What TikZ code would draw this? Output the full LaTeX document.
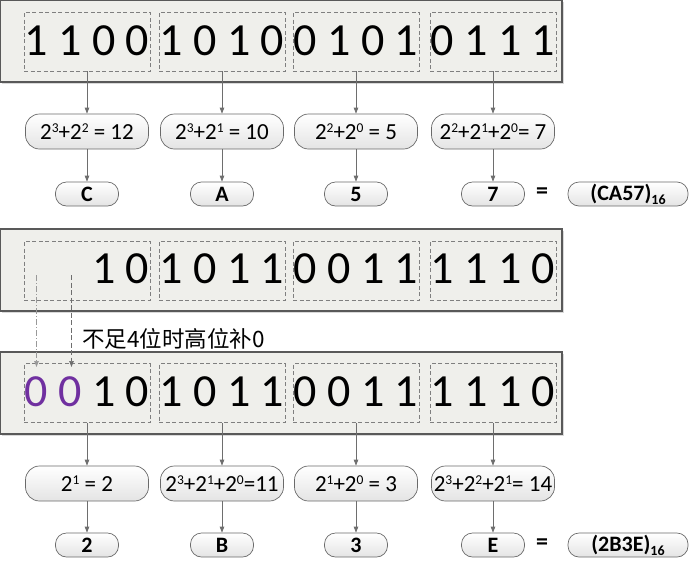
\documentclass[tikz,border=0pt]{standalone}
\usepackage{fontspec}
\setmainfont{Carlito}
\newfontfamily\cjk{Noto Sans CJK SC}
\usetikzlibrary{arrows.meta,shadows}
\definecolor{panelfill}{HTML}{EFEFEB}
\definecolor{panelline}{HTML}{595959}
\definecolor{boxline}{HTML}{7F7F7F}
\definecolor{arrline}{HTML}{6E6E6E}
\definecolor{nodeline}{HTML}{6A6A6A}
\definecolor{nodebot}{HTML}{E4E4E4}
\definecolor{padpurple}{HTML}{7030A0}
\newcommand\ex[1]{\raisebox{7.5pt}{\fontsize{13.5}{13.5}\selectfont #1}}
\newcommand\sbs[1]{\raisebox{-4pt}{\fontsize{14}{14}\selectfont #1}}
\tikzset{
  panel/.style={draw=panelline, line width=1.1pt, fill=panelfill,
    drop shadow={shadow xshift=1.5pt, shadow yshift=-1.5pt, fill=black!25, opacity=0.6}},
  dbox/.style={draw=boxline, dash pattern=on 4pt off 2.5pt, line width=0.7pt,
    minimum width=126pt, minimum height=59pt, inner sep=0pt},
  bits/.style={font=\fontsize{46}{46}\selectfont, anchor=base, inner sep=0pt},
  formula/.style={draw=nodeline, line width=0.7pt, rounded corners=14pt,
    top color=white, bottom color=nodebot, minimum width=123pt, minimum height=35pt,
    inner sep=0pt, font=\fontsize{23}{23}\selectfont},
  letter/.style={draw=nodeline, line width=0.7pt, rounded corners=11pt,
    top color=white, bottom color=nodebot, minimum width=63pt, minimum height=24pt,
    inner sep=0pt, font=\bfseries\fontsize{22}{22}\selectfont},
  result/.style={letter, minimum width=120pt},
  conn/.style={draw=arrline, line width=0.7pt, -{Triangle[length=6pt,width=4.5pt]}},
  dconnA/.style={conn, draw=arrline!70, dash pattern=on 6pt off 2pt on 1pt off 2pt},
  dconnB/.style={conn, dash pattern=on 5pt off 2.5pt},
  eqsign/.style={font=\bfseries\fontsize{24}{24}\selectfont, inner sep=0pt}
}
\begin{document}
\begin{tikzpicture}[x=1pt,y=-1pt]
\useasboundingbox (0,0) rectangle (690,560);
% ---------- top panel ----------
\path[panel] (0.6,0.6) rectangle (562,82);
\node[dbox] (t1) at (87,41.5) {};
\node[dbox] (t2) at (222,41.5) {};
\node[dbox] (t3) at (356,41.5) {};
\node[dbox] (t4) at (493,41.5) {};
\node[bits] (tb1) at (87,55) {1 1 0 0};
\node[bits] (tb2) at (222,55) {1 0 1 0};
\node[bits] (tb3) at (356,55) {0 1 0 1};
\node[bits] (tb4) at (493,55) {0 1 1 1};
\node[formula] (f1) at (87,131.5) {2\ex{3}+2\ex{2} = 12};
\node[formula] (f2) at (222,131.5) {2\ex{3}+2\ex{1} = 10};
\node[formula] (f3) at (356,131.5) {2\ex{2}+2\ex{0} = 5};
\node[formula] (f4) at (493,131.5) {2\ex{2}+2\ex{1}+2\ex{0}= 7};
\node[letter] (l1) at (87,194) {C};
\node[letter] (l2) at (222,194) {A};
\node[letter] (l3) at (356,194) {5};
\node[letter] (l4) at (493,194) {7};
\node[eqsign] (e1) at (542,193) {=};
\node[result] (r1) at (628,194) {(CA57)\sbs{16}};
\foreach \i in {1,2,3,4}{
  \draw[conn] (t\i.south) -- (f\i.north);
  \draw[conn] (f\i.south) -- (l\i.north);
}
% ---------- middle panel ----------
\path[panel] (0.6,229) rectangle (562,311);
\node[dbox] (m1) at (87,270.5) {};
\node[dbox] (m2) at (222,270.5) {};
\node[dbox] (m3) at (356,270.5) {};
\node[dbox] (m4) at (493,270.5) {};
\node[bits] (mb1) at (87,283) {\phantom{0 0} 1 0};
\node[bits] (mb2) at (222,283) {1 0 1 1};
\node[bits] (mb3) at (356,283) {0 0 1 1};
\node[bits] (mb4) at (493,283) {1 1 1 0};
\node[anchor=west, inner sep=0pt, font=\cjk\fontsize{22.5}{22.5}\selectfont] (note) at (82,339) {不足4位时高位补0};
% ---------- bottom panel ----------
\path[panel] (0.6,352) rectangle (562,434);
\node[dbox] (d1) at (87,393) {};
\node[dbox] (d2) at (222,393) {};
\node[dbox] (d3) at (356,393) {};
\node[dbox] (d4) at (493,393) {};
\node[bits] (db1) at (87,406) {\textcolor{padpurple}{0 0} 1 0};
\node[bits] (db2) at (222,406) {1 0 1 1};
\node[bits] (db3) at (356,406) {0 0 1 1};
\node[bits] (db4) at (493,406) {1 1 1 0};
\coordinate (s1) at (36.5,275);
\coordinate (s2) at (71.5,275);
\coordinate (p1) at (36.5,367);
\coordinate (p2) at (71.5,367);
\draw[dconnA] (s1) -- (p1);
\draw[dconnB] (s2) -- (p2);
\node[formula] (g1) at (87,483.5) {2\ex{1} = 2};
\node[formula] (g2) at (222,483.5) {2\ex{3}+2\ex{1}+2\ex{0}=11};
\node[formula] (g3) at (356,483.5) {2\ex{1}+2\ex{0} = 3};
\node[formula] (g4) at (493,483.5) {2\ex{3}+2\ex{2}+2\ex{1}= 14};
\node[letter] (k1) at (87,545) {2};
\node[letter] (k2) at (222,545) {B};
\node[letter] (k3) at (356,545) {3};
\node[letter] (k4) at (493,545) {E};
\node[eqsign] (e2) at (542,544) {=};
\node[result] (r2) at (628,545) {(2B3E)\sbs{16}};
\foreach \i in {1,2,3,4}{
  \draw[conn] (d\i.south) -- (g\i.north);
  \draw[conn] (g\i.south) -- (k\i.north);
}
\end{tikzpicture}
\end{document}
